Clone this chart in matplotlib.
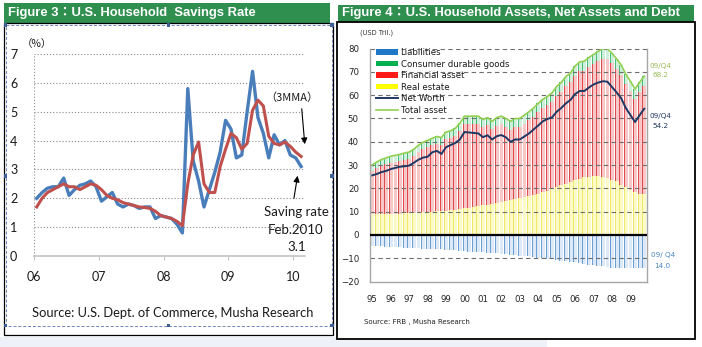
import numpy as np
import matplotlib
matplotlib.use("Agg")
import matplotlib.pyplot as plt
from matplotlib.patches import Rectangle, Patch
from matplotlib.lines import Line2D

W, H = 702, 347

# ---------------- Figure 3: personal saving rate (monthly, Jan 2006 - Feb 2010, %) ----------------
saving_rate = [
    2.0, 2.2, 2.35, 2.4, 2.4, 2.7, 2.1, 2.3, 2.45, 2.5, 2.6, 2.4,      # 2006
    1.9, 2.05, 2.2, 1.8, 1.7, 1.8, 1.75, 1.65, 1.7, 1.7, 1.3, 1.4,     # 2007
    1.35, 1.3, 1.1, 0.8, 5.8, 3.3, 2.6, 1.7, 2.3, 2.9, 3.6, 4.7,       # 2008
    4.4, 3.4, 3.5, 5.0, 6.4, 4.8, 4.25, 3.4, 4.2, 3.85, 4.0, 3.5,      # 2009
    3.4, 3.1,                                                          # 2010
]
saving_3mma = [
    1.7, 2.0, 2.2, 2.3, 2.4, 2.5, 2.4, 2.4, 2.3, 2.4, 2.5, 2.45,
    2.3, 2.1, 2.0, 1.95, 1.85, 1.8, 1.75, 1.7, 1.68, 1.65, 1.55, 1.4,
    1.35, 1.3, 1.2, 1.05, 2.5, 3.5, 3.95, 2.5, 2.2, 2.2, 3.1, 3.7,
    4.25, 4.1, 3.7, 3.9, 5.05, 5.4, 5.2, 4.15, 3.9, 3.85, 3.95, 3.8,
    3.6, 3.45,
]
fig3_years = [2006, 2007, 2008, 2009, 2010]
fig3_year_labels = ["06", "07", "08", "09", "10"]
fig3_yticks = [0, 1, 2, 3, 4, 5, 6, 7]

# ---------------- Figure 4: household balance sheet (quarterly, 1995Q1 - 2009Q4, USD tril.) ----------------
real_estate = [
    8.8, 8.8, 8.9, 8.9, 9.0, 9.1, 9.2, 9.3, 9.4, 9.5, 9.6, 9.8,
    9.9, 10.0, 10.1, 10.3, 10.5, 10.7, 10.9, 11.1, 11.4, 11.7, 12.0, 12.3,
    12.7, 13.0, 13.4, 13.8, 14.2, 14.6, 15.0, 15.4, 15.8, 16.2, 16.7, 17.2,
    17.8, 18.4, 19.0, 19.7, 20.5, 21.3, 22.1, 22.9, 23.6, 24.2, 24.7, 25.0,
    25.3, 25.2, 25.0, 24.5, 23.8, 23.0, 21.5, 20.5, 19.3, 18.3, 17.8, 17.5,
]
financial_assets = [
    18.7, 20.0, 20.8, 21.5, 22.1, 22.3, 22.6, 23.1, 23.3, 24.4, 26.0, 27.0,
    27.7, 28.5, 29.1, 28.4, 30.6, 30.8, 31.7, 33.7, 36.3, 36.0, 35.7, 35.3,
    33.5, 34.0, 31.9, 33.1, 33.3, 31.8, 30.2, 31.0, 30.5, 31.6, 32.5, 33.5,
    34.9, 36.0, 36.6, 37.4, 39.3, 40.2, 41.9, 42.6, 44.8, 46.0, 45.8, 47.0,
    48.0, 49.4, 50.7, 51.2, 49.9, 48.3, 47.2, 44.2, 42.4, 40.0, 43.4, 46.4,
]
durable_goods = [
    2.6, 2.6, 2.7, 2.7, 2.7, 2.8, 2.8, 2.8, 2.9, 2.9, 2.9, 3.0,
    3.0, 3.0, 3.1, 3.1, 3.1, 3.2, 3.2, 3.2, 3.3, 3.3, 3.3, 3.4,
    3.4, 3.4, 3.5, 3.5, 3.5, 3.6, 3.6, 3.6, 3.7, 3.7, 3.7, 3.8,
    3.8, 3.8, 3.9, 3.9, 3.9, 4.0, 4.0, 4.0, 4.1, 4.1, 4.1, 4.2,
    4.2, 4.2, 4.3, 4.3, 4.3, 4.3, 4.3, 4.3, 4.3, 4.3, 4.3, 4.3,
]
liabilities = [
    4.7, 4.8, 4.9, 5.0, 5.1, 5.2, 5.3, 5.4, 5.5, 5.6, 5.7, 5.8,
    5.9, 6.0, 6.1, 6.2, 6.3, 6.5, 6.6, 6.8, 6.9, 7.1, 7.2, 7.4,
    7.5, 7.6, 7.8, 7.9, 8.0, 8.2, 8.4, 8.6, 8.8, 9.0, 9.2, 9.5,
    9.7, 9.9, 10.2, 10.4, 10.7, 11.0, 11.3, 11.6, 11.8, 12.1, 12.4, 12.7,
    12.9, 13.2, 13.5, 13.8, 14.0, 14.2, 14.3, 14.3, 14.2, 14.2, 14.1, 14.0,
]
net_worth = [
    25.6, 26.2, 27.0, 27.5, 28.3, 28.8, 29.3, 29.5, 29.8, 31.0, 32.3, 33.2,
    33.6, 35.5, 36.1, 34.8, 37.7, 38.6, 39.5, 41.0, 44.2, 44.0, 43.8, 43.6,
    42.0, 42.8, 41.0, 42.4, 42.9, 41.9, 40.0, 41.0, 41.0, 42.3, 43.6, 45.3,
    47.0, 48.8, 49.8, 50.5, 52.9, 54.5, 56.5, 58.0, 60.5, 61.8, 61.8, 63.3,
    64.6, 65.4, 66.0, 65.8, 63.5, 61.2, 58.7, 54.5, 51.5, 48.5, 51.4, 54.2,
]
total_assets = [
    30.1, 31.4, 32.4, 33.1, 33.8, 34.2, 34.6, 35.2, 35.6, 36.8, 38.5, 39.8,
    40.6, 41.5, 42.3, 41.8, 44.2, 44.7, 45.8, 48.0, 51.0, 51.0, 51.0, 51.0,
    49.6, 50.4, 48.8, 50.4, 51.0, 50.0, 48.8, 50.0, 50.0, 51.5, 52.9, 54.5,
    56.5, 58.2, 59.5, 61.0, 63.7, 65.5, 68.0, 69.5, 72.5, 74.3, 74.6, 76.2,
    77.5, 78.8, 80.0, 80.0, 78.0, 75.6, 73.0, 69.0, 66.0, 62.6, 65.5, 68.2,
]
fig4_year_labels = ["95", "96", "97", "98", "99", "00", "01", "02",
                    "03", "04", "05", "06", "07", "08", "09"]
fig4_yticks = [-20, -10, 0, 10, 20, 30, 40, 50, 60, 70, 80]


def px_rect(x0, y0, x1, y1):
    """Pixel box (top-left origin) -> figure fraction rect."""
    return [x0 / W, 1 - y1 / H, (x1 - x0) / W, (y1 - y0) / H]


fig = plt.figure(figsize=(W / 100, H / 100), dpi=100, facecolor="white")

# background / frame layer in pixel coordinates
bg = fig.add_axes([0, 0, 1, 1], zorder=0)
bg.set_xlim(0, W)
bg.set_ylim(H, 0)
bg.axis("off")

HEADER_GREEN = "#2f8f4f"
cjk_head = ["Liberation Sans", "Noto Sans CJK JP"]

bg.add_patch(Rectangle((0, 337), 547, 10, facecolor="#eef2f8", edgecolor="none"))

# Figure 3 frame
bg.add_patch(Rectangle((3.5, 3), 326.5, 19.5, facecolor=HEADER_GREEN, edgecolor="none"))
bg.add_patch(Rectangle((4, 22.5), 329, 312.5, facecolor="white", edgecolor="black", lw=0.9))
bg.add_patch(Rectangle((5.5, 25), 326.5, 300.5, facecolor="none", edgecolor="#6d86b8",
                       lw=0.7, ls=(0, (3, 2))))
for hx, hy in [(5.5, 25), (168.5, 25), (332, 25), (5.5, 176), (332, 176),
               (5.5, 325.5), (168.5, 325.5), (332, 325.5)]:
    bg.add_patch(Rectangle((hx - 1.8, hy - 1.8), 3.6, 3.6, facecolor="#3e5f96", edgecolor="none"))
bg.text(8, 13, "Figure 3：U.S. Household  Savings Rate", color="white", fontsize=9.4,
        fontweight="bold", family=cjk_head, va="center", ha="left")

# Figure 4 frame
bg.add_patch(Rectangle((337.5, 4.5), 356, 17.5, facecolor=HEADER_GREEN, edgecolor="none"))
bg.add_patch(Rectangle((336.5, 22), 358, 316.5, facecolor="white", edgecolor="black", lw=1.3))
bg.text(342, 13.3, "Figure 4：U.S. Household Assets, Net Assets and Debt", color="white",
        fontsize=9.4, fontweight="bold", family=cjk_head, va="center", ha="left")

# ---------------- Figure 3 chart ----------------
axL = fig.add_axes(px_rect(34, 54, 305, 256), zorder=2)
axL.patch.set_alpha(0)
months = np.array(fig3_years[0] + (np.arange(len(saving_rate)) + 0.5) / 12)
axL.set_xlim(2006.0, 2010.185)
axL.set_ylim(0, 7)
for v in fig3_yticks[1:]:
    axL.axhline(v, color="#8a8a8a", lw=0.8, ls=(0, (1, 1.8)), zorder=1)
axL.axvline(2006.0, color="#8a8a8a", lw=0.8, ls=(0, (1, 1.8)), zorder=1)
axL.plot(months, saving_rate, color="#4a7ebb", lw=2.4, zorder=3)
axL.plot(months, saving_3mma, color="#c0504d", lw=2.2, zorder=4)
for s in ["top", "right", "left"]:
    axL.spines[s].set_visible(False)
axL.spines["bottom"].set_color("#c4c4c4")
axL.spines["bottom"].set_linewidth(1.2)
axL.set_xticks(fig3_years, fig3_year_labels)
axL.set_yticks(fig3_yticks)
axL.tick_params(axis="x", length=3, color="#c4c4c4", pad=8, labelsize=9, labelcolor="#1a1a1a")
axL.tick_params(axis="y", length=0, pad=12, labelsize=9, labelcolor="#1a1a1a")
for lab in axL.get_xticklabels() + axL.get_yticklabels():
    lab.set_family("Lato")

# ---------------- Figure 4 chart ----------------
axR = fig.add_axes(px_rect(370, 48.6, 647, 281.6), zorder=2)
axR.patch.set_alpha(0)
q = np.arange(len(total_assets))
re_v = np.array(real_estate)
fin_v = np.array(financial_assets)
dur_v = np.array(durable_goods)
liab_v = np.array(liabilities)

layers = [
    (re_v, np.zeros_like(re_v), "#fcfbc8", "#efe86a"),
    (fin_v, re_v, "#f8c8c8", "#df4a4e"),
    (dur_v, re_v + fin_v, "#cfeedb", "#45bd74"),
    (-liab_v, np.zeros_like(liab_v), "#dde9f6", "#6b9fd3"),
]
for vals, base, fill, stripe in layers:
    axR.bar(q + 0.08, vals, bottom=base, width=0.72, color=fill, lw=0, zorder=1)
    axR.bar(q - 0.3, vals, bottom=base, width=0.2, color=stripe, lw=0, zorder=1.2)

for v in fig4_yticks:
    if v in (-20, 0):
        continue
    axR.axhline(v, color="#6e6e6e", lw=0.8, ls=(0, (4, 3)), zorder=2.5)
axR.axhline(0, color="black", lw=1.6, zorder=3)
axR.plot(q, total_assets, color="#92d050", lw=1.2, zorder=4)
axR.plot(q, net_worth, color="#1f3864", lw=1.4, zorder=4.5)

axR.set_xlim(-0.5, 59.6)
axR.set_ylim(-20, 80)
axR.spines["top"].set_visible(False)
for s in ["left", "right", "bottom"]:
    axR.spines[s].set_color("#a6a6a6")
    axR.spines[s].set_linewidth(1.0)
axR.set_xticks(q[::4], fig4_year_labels)
axR.set_yticks(fig4_yticks)
axR.tick_params(axis="x", length=0, pad=10, labelsize=6.2, labelcolor="#222222")
axR.tick_params(axis="y", length=0, pad=8, labelsize=6.2, labelcolor="#222222")

legend_handles = [
    Patch(facecolor="#1f77c8", edgecolor="none", label="Liabilities"),
    Patch(facecolor="#00b050", edgecolor="none", label="Consumer durable goods"),
    Patch(facecolor="#ff1a1a", edgecolor="none", label="Financial asset"),
    Patch(facecolor="#ffff00", edgecolor="none", label="Real estate"),
    Line2D([], [], color="#1f3864", lw=1.4, label="Net Worth"),
    Line2D([], [], color="#92d050", lw=1.2, label="Total asset"),
]
leg = axR.legend(handles=legend_handles, loc="upper left",
                 bbox_to_anchor=(376 / W, 1 - 48 / H), bbox_transform=fig.transFigure,
                 frameon=False, fontsize=6.2, handlelength=2.5, handleheight=0.6,
                 handletextpad=0.35, labelspacing=0.3, borderpad=0, borderaxespad=0)
for t in leg.get_texts():
    t.set_color("#1a1a1a")

# ---------------- text and arrows (pixel layer on top) ----------------
fg = fig.add_axes([0, 0, 1, 1], zorder=5)
fg.set_xlim(0, W)
fg.set_ylim(H, 0)
fg.axis("off")
fg.patch.set_alpha(0)

cjk_text = ["Noto Sans CJK JP", "DejaVu Sans"]
fg.text(37, 43.5, "（%）", fontsize=7.5, family=cjk_text, ha="center", va="center", color="#1a1a1a")
fg.text(292, 98, "（3MMA）", fontsize=8, family=cjk_text, ha="center", va="center", color="#1a1a1a")
fg.annotate("", xy=(305, 147), xytext=(301.5, 106),
            arrowprops=dict(arrowstyle="-|>", color="black", lw=0.8, mutation_scale=9))
fg.annotate("", xy=(298, 173), xytext=(293.5, 201),
            arrowprops=dict(arrowstyle="-|>", color="black", lw=0.8, mutation_scale=9))
fg.text(296, 212, "Saving rate", fontsize=9.5, family="Lato", ha="center", va="center", color="#1a1a1a")
fg.text(296, 230, "Feb.2010", fontsize=9.5, family="Lato", ha="center", va="center", color="#1a1a1a")
fg.text(296.5, 246.5, "3.1", fontsize=9.5, family="Lato", ha="center", va="center", color="#1a1a1a")
fg.text(32, 313, "Source: U.S. Dept. of Commerce, Musha Research", fontsize=9.3, family="Lato",
        ha="left", va="center", color="#1a1a1a")

fg.text(360, 33, "(USD Tril.)", fontsize=4.8, ha="left", va="center", color="#333333")
fg.text(661, 65.5, "09/Q4", fontsize=5.2, ha="center", va="center", color="#9bbb59")
fg.text(661, 74.5, "68.2", fontsize=5.2, ha="center", va="center", color="#9bbb59")
fg.text(661, 116, "09/Q4", fontsize=5.2, ha="center", va="center", color="#1f3864")
fg.text(661, 126, "54.2", fontsize=5.2, ha="center", va="center", color="#1f3864")
fg.text(663, 255.5, "09/ Q4", fontsize=5.2, ha="center", va="center", color="#4a86c5")
fg.text(662, 265.5, "14.0", fontsize=5.2, ha="center", va="center", color="#4a86c5")
fg.text(364, 322, "Source: FRB , Musha Research", fontsize=5.0, ha="left", va="center", color="#222222")

fig.savefig("out.png", dpi=100, facecolor="white")
